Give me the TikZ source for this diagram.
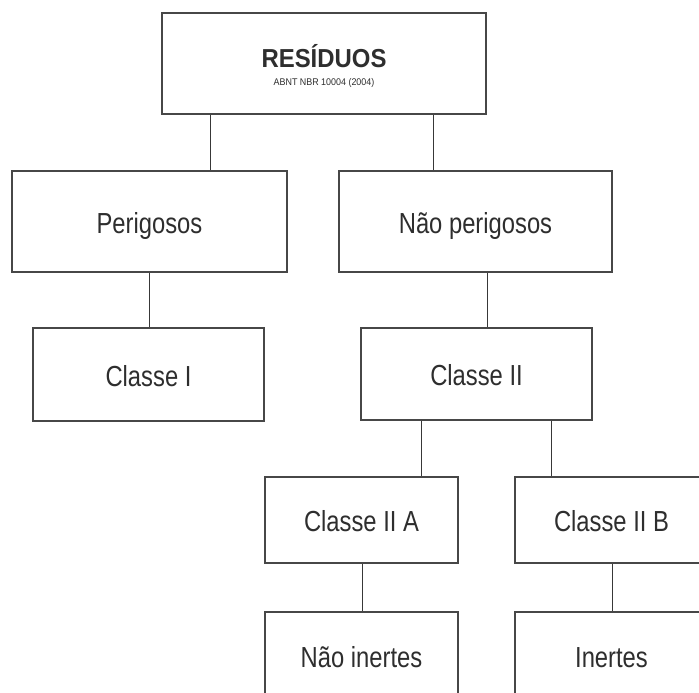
\documentclass[tikz,border=0pt]{standalone}
\usepackage{fontspec}
\setmainfont{Liberation Sans}[FakeStretch=0.82]
\newfontfamily\widef{Liberation Sans}[FakeStretch=0.92]
\begin{document}
\begin{tikzpicture}[x=1pt,y=-1pt,
  box/.style={draw=black!72, line width=1.2pt, rectangle, inner sep=0pt,
    text=black!82, font=\fontsize{29}{32}\selectfont,
    text height=23pt, text depth=0pt},
  conn/.style={draw=black!78, line width=1pt},
  lbl/.style={text=black!82, inner sep=0pt, anchor=base}]
\clip (0,0) rectangle (699,693);
\fill[white] (0,0) rectangle (699,693);
% boxes
\node[box, minimum width=324pt, minimum height=101pt] (res) at (324,63.5) {};
\node[lbl, font=\widef\fontsize{26}{28}\selectfont\bfseries] (restitle) at (324,67) {RESÍDUOS};
\node[lbl, font=\widef\fontsize{9.7}{11}\selectfont] (ressub) at (324,85.5) {ABNT NBR 10004 (2004)};
\node[box, minimum width=275pt, minimum height=101pt] (per) at (149.5,221.5) {Perigosos};
\node[box, minimum width=273pt, minimum height=101pt] (nper) at (475.5,221.5) {Não perigosos};
\node[box, minimum width=231pt, minimum height=93pt] (c1) at (148.5,374.5) {Classe I};
\node[box, minimum width=231pt, minimum height=92pt] (c2) at (476.5,374) {Classe II};
\node[box, minimum width=193pt, minimum height=86pt] (c2a) at (361.5,520) {Classe II A};
\node[box, minimum width=193pt, minimum height=86pt] (c2b) at (611.5,520) {Classe II B};
\node[box, minimum width=193pt, minimum height=88pt] (ni) at (361.5,656) {Não inertes};
\node[box, minimum width=193pt, minimum height=88pt] (in) at (611.5,656) {Inertes};
% connectors
\draw[conn] (res.south -| 210,0) -- (per.north -| 210,0);
\draw[conn] (res.south -| 433,0) -- (nper.north -| 433,0);
\draw[conn] (per.south -| 149,0) -- (c1.north -| 149,0);
\draw[conn] (nper.south -| 487,0) -- (c2.north -| 487,0);
\draw[conn] (c2.south -| 421,0) -- (c2a.north -| 421,0);
\draw[conn] (c2.south -| 551,0) -- (c2b.north -| 551,0);
\draw[conn] (c2a.south -| 362,0) -- (ni.north -| 362,0);
\draw[conn] (c2b.south -| 612,0) -- (in.north -| 612,0);
\end{tikzpicture}
\end{document}
